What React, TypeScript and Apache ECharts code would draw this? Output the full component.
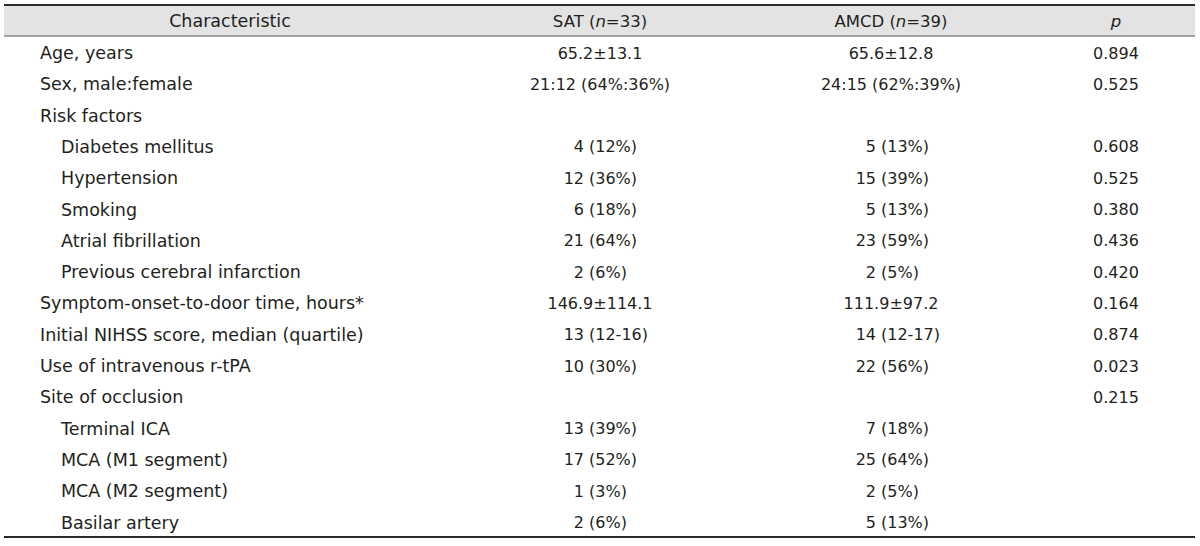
import React, { useEffect, useRef } from "react";
import * as echarts from "echarts";

const headers = ["Characteristic", "SAT", "AMCD", "p"];
const satN = 33;
const amcdN = 39;

const labels = [
  "Age, years",
  "Sex, male:female",
  "Risk factors",
  "Diabetes mellitus",
  "Hypertension",
  "Smoking",
  "Atrial fibrillation",
  "Previous cerebral infarction",
  "Symptom-onset-to-door time, hours*",
  "Initial NIHSS score, median (quartile)",
  "Use of intravenous r-tPA",
  "Site of occlusion",
  "Terminal ICA",
  "MCA (M1 segment)",
  "MCA (M2 segment)",
  "Basilar artery",
];
const indents = [0, 0, 0, 1, 1, 1, 1, 1, 0, 0, 0, 0, 1, 1, 1, 1];
const satValues = [
  "65.2±13.1", "21:12 (64%:36%)", "", "4 (12%)", "12 (36%)", "6 (18%)", "21 (64%)", "2 (6%)",
  "146.9±114.1", "13 (12-16)", "10 (30%)", "", "13 (39%)", "17 (52%)", "1 (3%)", "2 (6%)",
];
const amcdValues = [
  "65.6±12.8", "24:15 (62%:39%)", "", "5 (13%)", "15 (39%)", "5 (13%)", "23 (59%)", "2 (5%)",
  "111.9±97.2", "14 (12-17)", "22 (56%)", "", "7 (18%)", "25 (64%)", "2 (5%)", "5 (13%)",
];
const pValues = [
  "0.894", "0.525", "", "0.608", "0.525", "0.380", "0.436", "0.420",
  "0.164", "0.874", "0.023", "0.215", "", "", "", "",
];

const FONT_FAMILY = "'Century Gothic', 'URW Gothic', 'DejaVu Sans', sans-serif";
const LABEL_SIZE = 17.5;
const VALUE_SIZE = 16;
const HEADER_SIZE = 16.5;
const TEXT_COLOR = "#231f20";

export default function App() {
  const ref = useRef<HTMLDivElement>(null);
  useEffect(() => {
    if (!ref.current) return;
    const chart = echarts.init(ref.current, undefined, { renderer: "svg" });

    const left = 4;
    const right = 1195;
    const headerTop = 5;
    const headerBottom = 36;
    const headerY = 21;
    const firstRowY = 53;
    const rowPitch = 31.3;
    const bottomLine = 537;
    const labelX = 40;
    const indentX = 61;
    const satCenter = 600;
    const amcdCenter = 891;
    const pCenter = 1116;
    const satParen = 589;
    const amcdParen = 881;

    const txt = (text: string, x: number, y: number, align: string, size: number) => ({
      type: "text",
      style: {
        text,
        x,
        y,
        font: `${size}px ${FONT_FAMILY}`,
        fill: TEXT_COLOR,
        textAlign: align,
        textVerticalAlign: "middle",
      },
    });

    const valueCell = (v: string, center: number, paren: number, y: number) => {
      if (!v) return [];
      const m = v.match(/^(\d+) (\(.*)$/);
      if (m) {
        return [
          txt(m[1], paren - 5, y, "right", VALUE_SIZE),
          txt(m[2], paren, y, "left", VALUE_SIZE),
        ];
      }
      return [txt(v, center, y, "center", VALUE_SIZE)];
    };

    const rich = {
      r: { fontFamily: FONT_FAMILY, fontSize: HEADER_SIZE, fill: TEXT_COLOR, color: TEXT_COLOR },
      i: {
        fontFamily: FONT_FAMILY,
        fontSize: HEADER_SIZE,
        fontStyle: "italic",
        fill: TEXT_COLOR,
        color: TEXT_COLOR,
      },
    };
    const headerRich = (text: string, x: number) => ({
      type: "text",
      style: {
        text,
        x,
        y: headerY,
        rich,
        fill: TEXT_COLOR,
        fontFamily: FONT_FAMILY,
        fontSize: HEADER_SIZE,
        textAlign: "center",
        textVerticalAlign: "middle",
      },
    });

    const elements: any[] = [
      {
        type: "rect",
        shape: { x: left, y: headerTop, width: right - left, height: headerBottom - headerTop },
        style: { fill: "#e3e3e3" },
      },
      {
        type: "line",
        shape: { x1: left, y1: headerTop, x2: right, y2: headerTop },
        style: { stroke: "#2b2b2b", lineWidth: 2 },
      },
      {
        type: "line",
        shape: { x1: left, y1: headerBottom, x2: right, y2: headerBottom },
        style: { stroke: "#555555", lineWidth: 1 },
      },
      {
        type: "line",
        shape: { x1: left, y1: bottomLine, x2: right, y2: bottomLine },
        style: { stroke: "#2b2b2b", lineWidth: 2 },
      },
      txt(headers[0], 230, headerY, "center", LABEL_SIZE),
      headerRich(`{r|${headers[1]} (}{i|n}{r|=${satN})}`, satCenter),
      headerRich(`{r|${headers[2]} (}{i|n}{r|=${amcdN})}`, amcdCenter),
      headerRich(`{i|${headers[3]}}`, pCenter),
    ];

    labels.forEach((label, i) => {
      const y = firstRowY + i * rowPitch;
      elements.push(txt(label, indents[i] ? indentX : labelX, y, "left", LABEL_SIZE));
      elements.push(...valueCell(satValues[i], satCenter, satParen, y));
      elements.push(...valueCell(amcdValues[i], amcdCenter, amcdParen, y));
      if (pValues[i]) elements.push(txt(pValues[i], pCenter, y, "center", VALUE_SIZE));
    });

    chart.setOption({
      animation: false,
      backgroundColor: "#ffffff",
      graphic: { elements },
    });
    return () => chart.dispose();
  }, []);

  return (
    <div
      ref={ref}
      style={{ position: "fixed", left: 0, top: 0, width: 1200, height: 546 }}
    />
  );
}
